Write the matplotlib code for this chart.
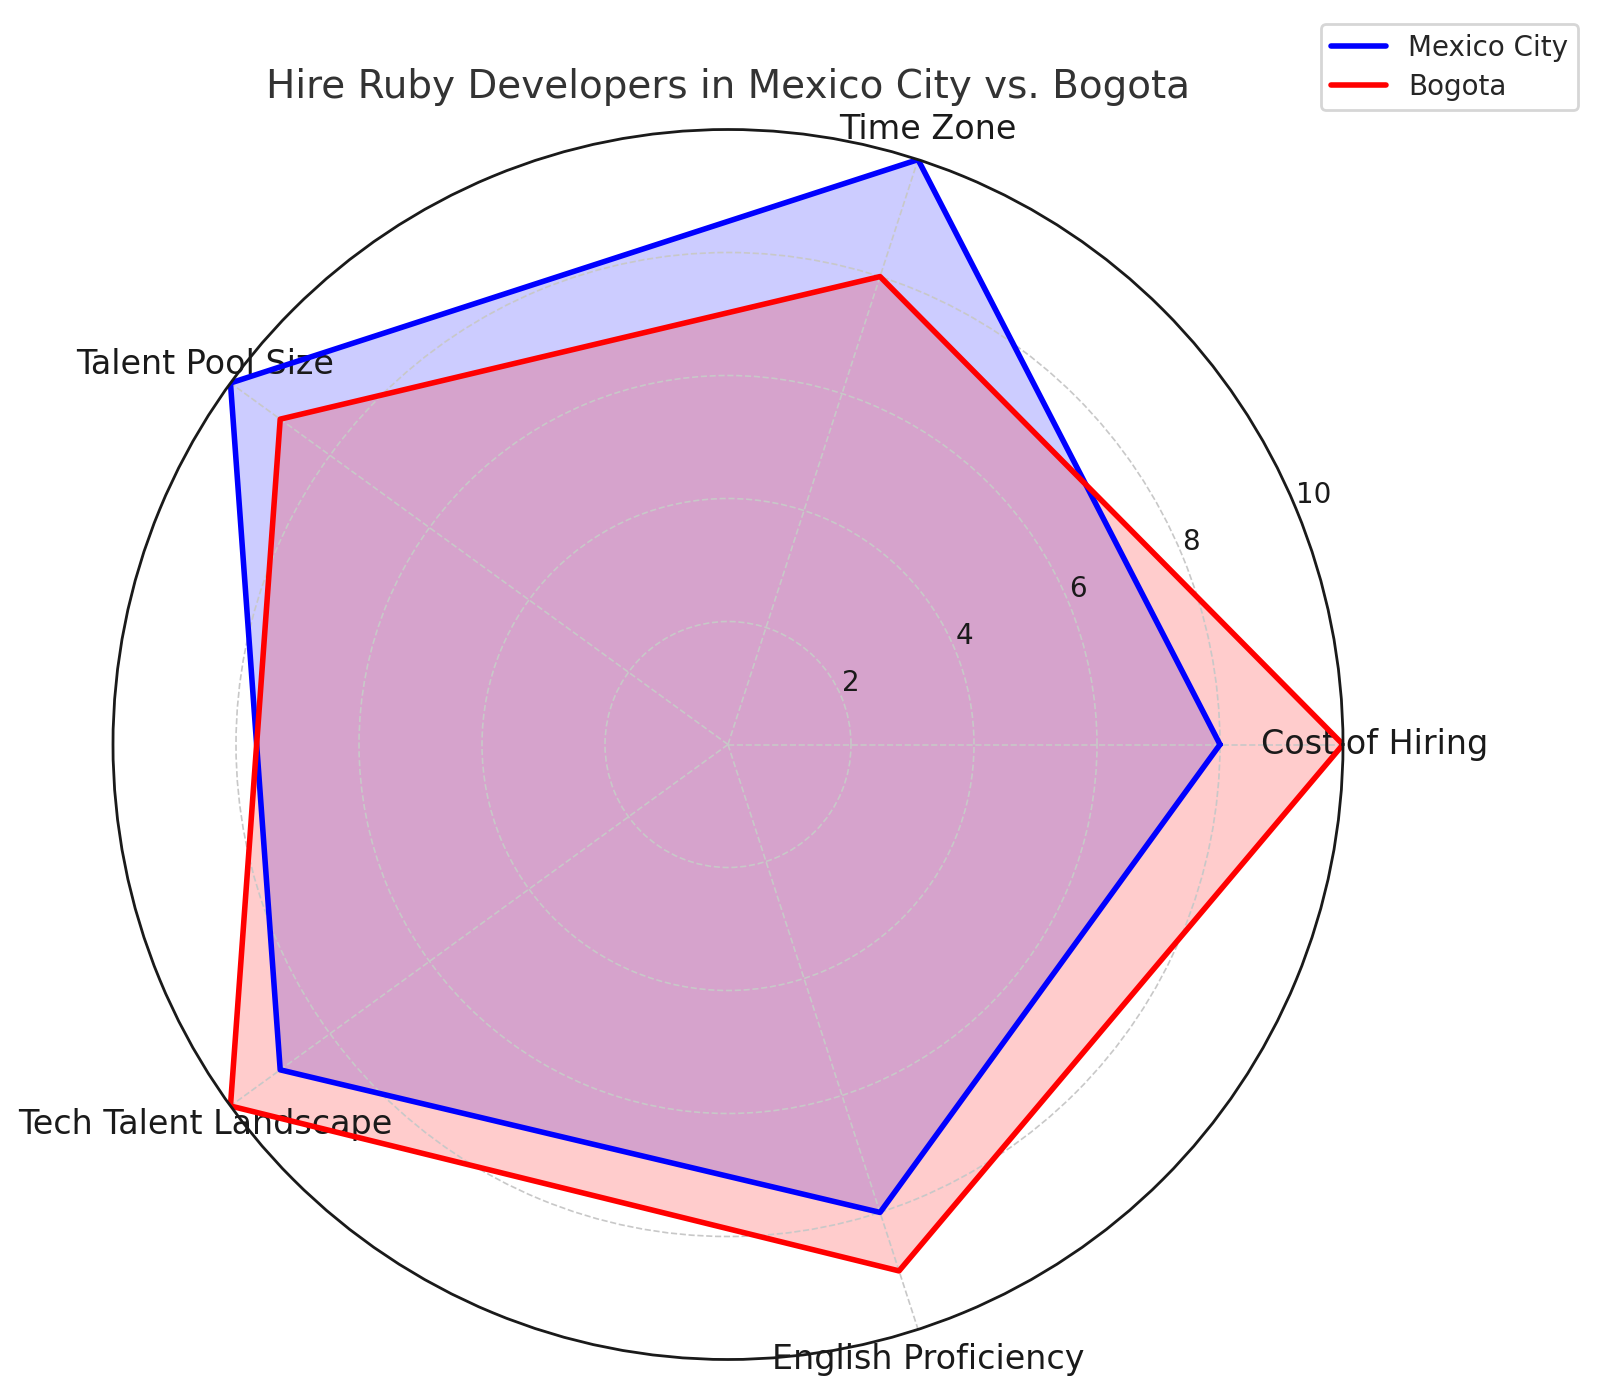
import numpy as np
import matplotlib
matplotlib.use("Agg")
import matplotlib.pyplot as plt
import seaborn as sns

sns.set_theme(style="whitegrid")
plt.rcParams['font.family'] = ['DejaVu Sans']

categories = ["Cost of Hiring", "Time Zone", "Talent Pool Size",
              "Tech Talent Landscape", "English Proficiency"]
mexico_city = [8, 10, 10, 9, 8]
bogota = [10, 8, 9, 10, 9]
r_ticks = [2, 4, 6, 8, 10]

n = len(categories)
angles = np.linspace(0, 2 * np.pi, n, endpoint=False).tolist()
angles_c = angles + angles[:1]
mc = mexico_city + mexico_city[:1]
bg = bogota + bogota[:1]

W, H, DPI = 1597, 1395, 200
fig = plt.figure(figsize=(W / DPI, H / DPI), dpi=DPI)
ax = fig.add_axes([113 / W, 35.5 / H, 1230 / W, 1230 / H], polar=True)
ax.set_axisbelow('line')

ax.plot(angles_c, mc, color="blue", linewidth=2, label="Mexico City", zorder=2)
ax.fill(angles_c, mc, color="blue", alpha=0.2, zorder=1)
ax.plot(angles_c, bg, color="red", linewidth=2, label="Bogota", zorder=2)
ax.fill(angles_c, bg, color="red", alpha=0.2, zorder=1)

ax.set_ylim(0, 10)
ax.set_yticks(r_ticks)
ax.set_yticklabels([str(t) for t in r_ticks], fontsize=10, color="0.1")
ax.set_rlabel_position(22.5)
ax.set_xticks(angles)
ax.set_xticklabels(categories, fontsize=12, color="0.1")
ax.tick_params(axis="x", pad=-1.6)
ax.grid(True, linestyle="--", color="#c8c8c8", linewidth=0.6)
ax.spines["polar"].set_color("0.1")
ax.spines["polar"].set_linewidth(1.0)
ax.set_facecolor("white")

fig.text(728 / W, 1 - 86.5 / H, "Hire Ruby Developers in Mexico City vs. Bogota",
         ha="center", va="center", fontsize=14, color="0.2")

fig.legend(loc="upper right", bbox_to_anchor=(1592 / W, 1 - 10 / H),
           fontsize=10, frameon=True, labelspacing=0.4, borderpad=0.35)

fig.savefig("out.png", dpi=DPI)
